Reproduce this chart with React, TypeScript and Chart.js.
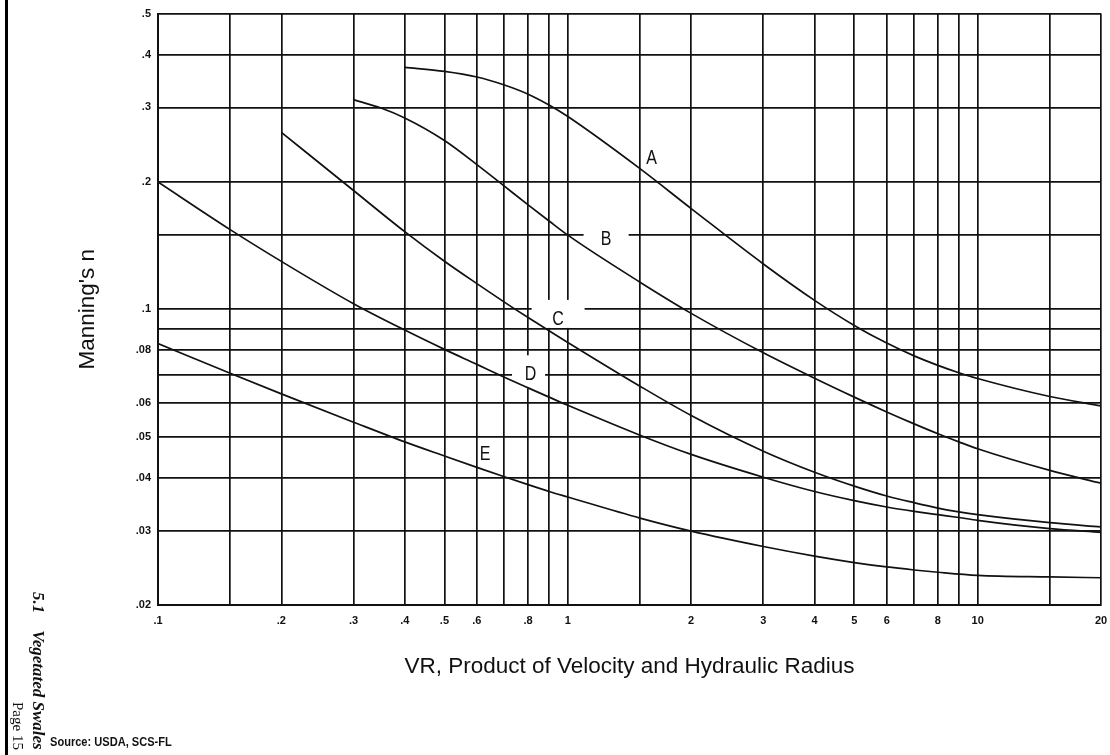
import React, { useEffect, useRef } from "react";
import { Chart, registerables } from "chart.js";

Chart.register(...registerables);

// ---- axis grid & tick labels ----
const xGridValues = [0.1, 0.15, 0.2, 0.3, 0.4, 0.5, 0.6, 0.7, 0.8, 0.9, 1, 1.5, 2, 3, 4, 5, 6, 7, 8, 9, 10, 15, 20];
const xTickValues = [0.1, 0.2, 0.3, 0.4, 0.5, 0.6, 0.8, 1, 2, 3, 4, 5, 6, 8, 10, 20];
const xTickLabels = [".1", ".2", ".3", ".4", ".5", ".6", ".8", "1", "2", "3", "4", "5", "6", "8", "10", "20"];
const yGridValues = [0.02, 0.03, 0.04, 0.05, 0.06, 0.07, 0.08, 0.09, 0.1, 0.15, 0.2, 0.3, 0.4, 0.5];
const yTickValues = [0.02, 0.03, 0.04, 0.05, 0.06, 0.08, 0.1, 0.2, 0.3, 0.4, 0.5];
const yTickLabels = [".02", ".03", ".04", ".05", ".06", ".08", ".1", ".2", ".3", ".4", ".5"];

// ---- retardance curves ----
const curveNames = ["A", "B", "C", "D", "E"];

const aX = [0.4, 0.5, 0.6, 0.7, 0.8, 0.9, 1, 1.5, 2, 3, 4, 5, 6, 7, 8, 9, 10, 15, 20];
const aY = [0.373, 0.365, 0.354, 0.339, 0.3225, 0.304, 0.2855, 0.215, 0.173, 0.128, 0.105, 0.0916, 0.0832, 0.0776, 0.0737, 0.0708, 0.0686, 0.0622, 0.0591];

const bX = [0.3, 0.35, 0.4, 0.5, 0.6, 0.7, 0.8, 0.9, 1, 1.5, 2, 3, 4, 5, 6, 7, 8, 9, 10, 15, 20];
const bY = [0.313, 0.299, 0.2833, 0.2506, 0.2198, 0.1955, 0.1766, 0.1617, 0.1497, 0.1159, 0.0978, 0.0789, 0.0687, 0.062, 0.0572, 0.0536, 0.0508, 0.0486, 0.0468, 0.0416, 0.0388];

const cX = [0.2, 0.3, 0.4, 0.5, 0.6, 0.7, 0.8, 0.9, 1, 1.5, 2, 3, 4, 5, 6, 7, 8, 9, 10, 15, 20];
const cY = [0.262, 0.1909, 0.1526, 0.1299, 0.115, 0.104, 0.0956, 0.089, 0.0835, 0.0658, 0.0561, 0.0462, 0.0412, 0.0382, 0.0362, 0.0349, 0.0339, 0.0332, 0.0327, 0.0313, 0.0306];

const dX = [0.1, 0.15, 0.2, 0.3, 0.4, 0.5, 0.6, 0.7, 0.8, 0.9, 1, 1.5, 2, 3, 4, 5, 6, 7, 8, 9, 10, 15, 20];
const dY = [0.2, 0.1543, 0.1298, 0.1031, 0.0893, 0.0804, 0.0741, 0.0691, 0.0652, 0.062, 0.0593, 0.0504, 0.0454, 0.0401, 0.0371, 0.0353, 0.0341, 0.0333, 0.0327, 0.0322, 0.0317, 0.0303, 0.0297];

const eX = [0.1, 0.15, 0.2, 0.3, 0.4, 0.5, 0.6, 0.7, 0.8, 0.9, 1, 1.5, 2, 3, 4, 5, 6, 7, 8, 10, 15, 20];
const eY = [0.083, 0.0706, 0.0631, 0.0541, 0.0486, 0.045, 0.0423, 0.0402, 0.0385, 0.0371, 0.036, 0.0321, 0.0299, 0.0275, 0.0261, 0.0252, 0.0246, 0.0242, 0.0239, 0.0235, 0.0233, 0.0232];

const curveXs = [aX, bX, cX, dX, eX];
const curveYs = [aY, bY, cY, dY, eY];

// curve letter anchors (data coordinates)
const letterX = [1.6, 1.24, 0.947, 0.811, 0.628];
const letterY = [0.2275, 0.146, 0.0944, 0.07, 0.0453];

// white gaps cut into the grid behind some letters (style, px)
const letterGaps = [null, { w: 45, h: 24, dx: 0, dy: 0 }, { w: 53, h: 28, dx: 0, dy: -6 }, { w: 33, h: 33, dx: -2, dy: -3 }, null];

const INK = "#111";

function findLabel(v: number, vals: number[], labels: string[]) {
  for (let i = 0; i < vals.length; i++) {
    if (Math.abs(v - vals[i]) / vals[i] < 1e-6) return labels[i];
  }
  return "";
}

const letterPlugin = {
  id: "curveLetters",
  beforeDatasetsDraw(chart: any) {
    const { ctx, scales } = chart;
    ctx.save();
    ctx.fillStyle = "#fff";
    curveNames.forEach((_, i) => {
      const g = letterGaps[i];
      if (!g) return;
      const px = scales.x.getPixelForValue(letterX[i]) + g.dx;
      const py = scales.y.getPixelForValue(letterY[i]) + g.dy;
      ctx.fillRect(px - g.w / 2, py - g.h / 2, g.w, g.h);
    });
    ctx.restore();
  },
  afterDatasetsDraw(chart: any) {
    const { ctx, scales } = chart;
    curveNames.forEach((n, i) => {
      const px = scales.x.getPixelForValue(letterX[i]);
      const py = scales.y.getPixelForValue(letterY[i]);
      ctx.save();
      ctx.translate(px, py);
      ctx.scale(0.8, 1);
      ctx.font = '20px "Liberation Sans", Arial, sans-serif';
      ctx.textAlign = "center";
      ctx.textBaseline = "middle";
      ctx.fillStyle = INK;
      ctx.fillText(n, 0, 0);
      ctx.restore();
    });
  },
};

export default function App() {
  const ref = useRef<HTMLCanvasElement>(null);

  useEffect(() => {
    if (!ref.current) return;
    const tickFont = { family: '"Liberation Sans", Arial, sans-serif', size: 11, weight: "bold" as const };
    const titleFont = { family: '"Liberation Sans", Arial, sans-serif', size: 22.5, weight: "normal" as const };
    const chart = new Chart(ref.current, {
      type: "line",
      data: {
        datasets: curveNames.map((n, i) => ({
          label: n,
          data: curveXs[i].map((x, j) => ({ x, y: curveYs[i][j] })),
          borderColor: INK,
          borderWidth: 1.7,
          pointRadius: 0,
          fill: false,
          cubicInterpolationMode: "monotone" as const,
        })),
      },
      options: {
        responsive: false,
        animation: false,
        layout: { padding: { left: 0, right: 9, top: 12, bottom: 0 } },
        plugins: { legend: { display: false }, tooltip: { enabled: false } },
        scales: {
          x: {
            type: "logarithmic",
            min: 0.1,
            max: 20,
            afterBuildTicks: (s: any) => {
              s.ticks = xGridValues.map((v) => ({ value: v }));
            },
            afterFit: (s: any) => {
              s.height = 150;
              s.paddingLeft = 0;
              s.paddingRight = 0;
            },
            ticks: {
              autoSkip: false,
              maxRotation: 0,
              minRotation: 0,
              padding: 9,
              color: INK,
              font: tickFont,
              callback: (v: any) => findLabel(Number(v), xTickValues, xTickLabels),
            },
            grid: { color: INK, lineWidth: 1.7, drawTicks: false },
            border: { color: INK, width: 2 },
            title: {
              display: true,
              text: "VR, Product of Velocity and Hydraulic Radius",
              color: INK,
              font: titleFont,
              padding: { top: 0, bottom: 74.5 },
            },
          },
          y: {
            type: "logarithmic",
            min: 0.02,
            max: 0.5,
            afterBuildTicks: (s: any) => {
              s.ticks = yGridValues.map((v) => ({ value: v }));
            },
            afterFit: (s: any) => {
              s.width = 158;
            },
            ticks: {
              autoSkip: false,
              padding: 7,
              color: INK,
              font: tickFont,
              callback: (v: any) => findLabel(Number(v), yTickValues, yTickLabels),
            },
            grid: { color: INK, lineWidth: 1.7, drawTicks: false },
            border: { color: INK, width: 2 },
            title: {
              display: true,
              text: "Manning's n",
              color: INK,
              font: titleFont,
              padding: { top: 74.5, bottom: 0 },
            },
          },
        },
      },
      plugins: [letterPlugin],
    });
    return () => chart.destroy();
  }, []);

  return (
    <div style={{ position: "absolute", left: 0, top: 0, width: 1110, height: 755, background: "#fff", overflow: "hidden" }}>
      <canvas ref={ref} width={1110} height={755} style={{ position: "absolute", left: 0, top: 0, width: 1110, height: 755 }} />
      <div style={{ position: "absolute", left: 5, top: 0, width: 3, height: 755, background: "#000" }} />
      <div
        style={{
          position: "absolute",
          left: 29,
          bottom: 5,
          writingMode: "vertical-rl",
          font: 'italic bold 17px "Liberation Serif", "Times New Roman", serif',
          lineHeight: "18px",
          whiteSpace: "nowrap",
          color: INK,
        }}
      >
        5.1{"\u2003"}Vegetated Swales
      </div>
      <div
        style={{
          position: "absolute",
          left: 10,
          bottom: 5,
          writingMode: "vertical-rl",
          font: '15px "Liberation Serif", "Times New Roman", serif',
          lineHeight: "16px",
          whiteSpace: "nowrap",
          color: INK,
        }}
      >
        Page 15
      </div>
      <div
        style={{
          position: "absolute",
          left: 50,
          top: 734,
          font: 'bold 13.5px "Liberation Sans", Arial, sans-serif',
          lineHeight: "16px",
          whiteSpace: "nowrap",
          color: INK,
          transform: "scaleX(0.82)",
          transformOrigin: "0 0",
        }}
      >
        Source: USDA, SCS-FL
      </div>
    </div>
  );
}
